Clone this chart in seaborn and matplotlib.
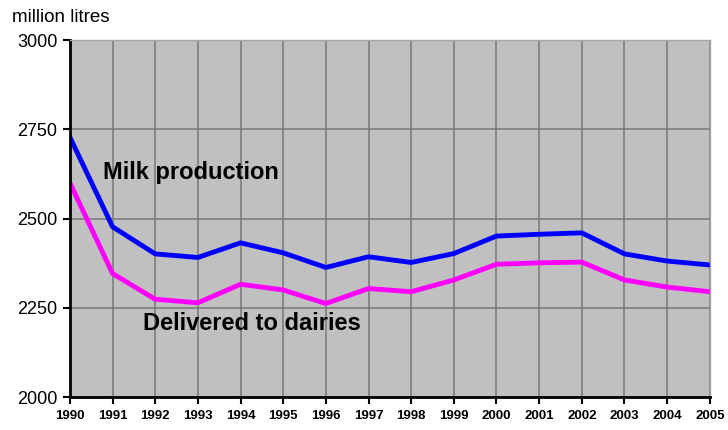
import pandas as pd
import matplotlib
matplotlib.use("Agg")
import matplotlib.pyplot as plt
import seaborn as sns

# Data
years = list(range(1990, 2006))
milk_production = [2728, 2477, 2401, 2391, 2432, 2404, 2363, 2393, 2377, 2402,
                   2451, 2456, 2460, 2401, 2381, 2370]
delivered = [2600, 2346, 2274, 2264, 2316, 2300, 2262, 2304, 2295, 2328,
             2372, 2376, 2378, 2328, 2308, 2295]

df = pd.DataFrame({
    "year": years * 2,
    "litres": milk_production + delivered,
    "series": ["Milk production"] * len(years) + ["Delivered to dairies"] * len(years),
})

sns.set_style("white")
plt.rcParams["font.family"] = ["Liberation Sans", "DejaVu Sans"]
plt.rcParams["text.color"] = "black"
plt.rcParams["xtick.color"] = "black"
plt.rcParams["ytick.color"] = "black"

fig = plt.figure(figsize=(7.28, 4.30), dpi=100)
ax = fig.add_axes([0.096, 0.0767, 0.879, 0.830])
ax.set_facecolor("#c0c0c0")

sns.lineplot(data=df, x="year", y="litres", hue="series",
             palette={"Milk production": "#0000ff", "Delivered to dairies": "#ff00ff"},
             linewidth=3.5, legend=False, ax=ax)

ax.set_xlim(1990, 2005)
ax.set_ylim(2000, 3000)
ax.set_xticks(years)
ax.set_yticks([2000, 2250, 2500, 2750, 3000])
ax.set_xticklabels([str(y) for y in years], fontsize=9.5, fontweight="bold")
ax.set_yticklabels(["2000", "2250", "2500", "2750", "3000"], fontsize=13)
ax.set_xlabel("")
ax.set_ylabel("")

ax.grid(True, color="#777777", linewidth=1.1)
ax.set_axisbelow(True)

for side in ["top", "right"]:
    ax.spines[side].set_color("#a8a8a8")
    ax.spines[side].set_linewidth(1)
for side in ["left", "bottom"]:
    ax.spines[side].set_color("black")
    ax.spines[side].set_linewidth(2)

ax.tick_params(axis="both", direction="out", length=5, width=1.5, color="black",
               labelcolor="black", left=True, bottom=True, pad=4)

ax.text(1990.77, 2630, "Milk production", fontsize=17, fontweight="bold",
        va="center", ha="left", color="black")
ax.text(1991.71, 2207, "Delivered to dairies", fontsize=17, fontweight="bold",
        va="center", ha="left", color="black")

fig.text(12 / 728, 1 - 18 / 430, "million litres", fontsize=13.5, va="center",
         ha="left", color="black")

fig.savefig("out.png", dpi=100)
